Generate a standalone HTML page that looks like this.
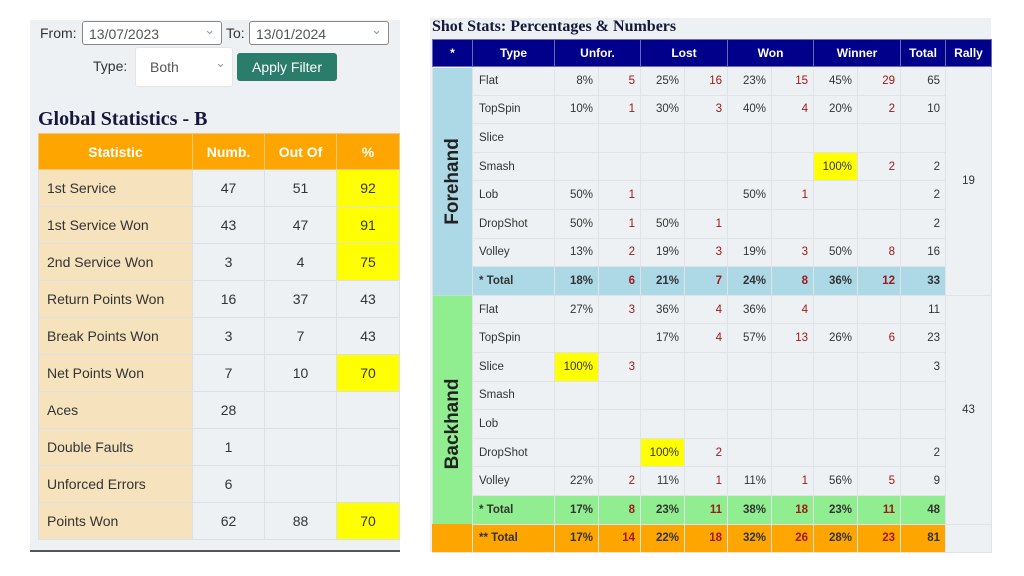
<!DOCTYPE html>
<html><head><meta charset="utf-8"><style>
body{margin:0;width:1024px;height:576px;background:#fff;position:relative;overflow:hidden;font-family:"Liberation Sans",sans-serif;}
.lp{position:absolute;left:30px;top:20px;width:370px;height:530px;background:#edf1f4;border-bottom:2px solid #555;}
.sel{position:absolute;height:24px;border:1px solid #888;border-radius:3px;background:#fff;font-size:14px;color:#555;line-height:24px;padding-left:6px;box-sizing:border-box}
.sel:after{content:"⌄";position:absolute;right:6px;top:-4px;color:#999;font-size:13px}
.lab{position:absolute;font-size:14px;color:#333}
table{border-collapse:collapse;position:absolute;table-layout:fixed}
.gt td{border:1px solid #dcdfe3;height:36px;font-size:14px;color:#333;text-align:center;padding:0}
.gt td.s{background:#f6e2bd;text-align:left;padding-left:8px}
.gt th{background:#ffa500;color:#fff;height:33px;font-size:14px;border:1px solid #f3c77a}
.gt td.y,.st td.y{background:#ffff00}
.st td,.st th{border:1px solid #dfe2e6;font-size:11.5px;color:#333;padding:0 5px;height:27.6px}
.st th{background:#00008b;color:#fff;height:26px;font-size:12px;border:1px solid #6a6ab8;text-align:center}
.st td{text-align:right}
.st td.t{text-align:left;padding-left:6px}
.st td.r{color:#a01818}
.fb td{background:#add8e6;font-weight:bold}
.bb td{background:#90ee90;font-weight:bold}
.ob td{background:#ffa500;font-weight:bold}
.st td.side{font-size:19px;font-weight:bold;color:#222;writing-mode:vertical-rl;transform:rotate(180deg);text-align:center;padding:0}
</style></head><body>
<div class="lp"></div>
<div class="lab" style="left:40px;top:25px">From:</div>
<div class="sel" style="left:82px;top:21px;width:140px">13/07/2023</div>
<div class="lab" style="left:226px;top:25px">To:</div>
<div class="sel" style="left:249px;top:21px;width:140px">13/01/2024</div>
<div class="lab" style="left:93px;top:58px">Type:</div>
<div class="sel" style="left:135px;top:47px;width:98px;height:40px;line-height:38px;border-color:#e5e5e5;padding-left:14px">Both</div>
<div style="position:absolute;left:237px;top:53px;width:100px;height:28px;background:#2a7d6b;border-radius:3px;color:#fff;font-size:14px;text-align:center;line-height:28px">Apply Filter</div>
<div style="position:absolute;left:38px;top:108px;font-family:'Liberation Serif',serif;font-weight:bold;font-size:20px;color:#15183a">Global Statistics - B</div>
<table class="gt" style="left:38px;top:133px;width:361px">
<colgroup><col style="width:154px"><col style="width:72px"><col style="width:72px"><col style="width:63px"></colgroup>
<tr><th>Statistic</th><th>Numb.</th><th>Out Of</th><th>%</th></tr>
<tr><td class="s">1st Service</td><td>47</td><td>51</td><td class="y">92</td></tr>
<tr><td class="s">1st Service Won</td><td>43</td><td>47</td><td class="y">91</td></tr>
<tr><td class="s">2nd Service Won</td><td>3</td><td>4</td><td class="y">75</td></tr>
<tr><td class="s">Return Points Won</td><td>16</td><td>37</td><td>43</td></tr>
<tr><td class="s">Break Points Won</td><td>3</td><td>7</td><td>43</td></tr>
<tr><td class="s">Net Points Won</td><td>7</td><td>10</td><td class="y">70</td></tr>
<tr><td class="s">Aces</td><td>28</td><td></td><td></td></tr>
<tr><td class="s">Double Faults</td><td>1</td><td></td><td></td></tr>
<tr><td class="s">Unforced Errors</td><td>6</td><td></td><td></td></tr>
<tr><td class="s">Points Won</td><td>62</td><td>88</td><td class="y">70</td></tr>
</table>
<div style="position:absolute;left:430px;top:18px;width:561px;height:534px;background:#edf1f4"></div>
<div style="position:absolute;left:432px;top:18px;font-family:'Liberation Serif',serif;font-weight:bold;font-size:16px;color:#15183a">Shot Stats: Percentages &amp; Numbers</div>
<table class="st" style="left:432px;top:39px;width:559px">
<colgroup><col style="width:40px"><col style="width:82px"><col style="width:44px"><col style="width:42px"><col style="width:44px"><col style="width:43px"><col style="width:44px"><col style="width:42px"><col style="width:44px"><col style="width:43px"><col style="width:45px"><col style="width:46px"></colgroup>
<tr><th>*</th><th>Type</th><th colspan="2">Unfor.</th><th colspan="2">Lost</th><th colspan="2">Won</th><th colspan="2">Winner</th><th>Total</th><th>Rally</th></tr>
<tr><td rowspan="8" class="side" style="background:#add8e6">Forehand</td><td class="t">Flat</td><td>8%</td><td class="r">5</td><td>25%</td><td class="r">16</td><td>23%</td><td class="r">15</td><td>45%</td><td class="r">29</td><td>65</td><td rowspan="8" style="text-align:center">19</td></tr>
<tr><td class="t">TopSpin</td><td>10%</td><td class="r">1</td><td>30%</td><td class="r">3</td><td>40%</td><td class="r">4</td><td>20%</td><td class="r">2</td><td>10</td></tr>
<tr><td class="t">Slice</td><td></td><td></td><td></td><td></td><td></td><td></td><td></td><td></td><td></td></tr>
<tr><td class="t">Smash</td><td></td><td></td><td></td><td></td><td></td><td></td><td class="y">100%</td><td class="r">2</td><td>2</td></tr>
<tr><td class="t">Lob</td><td>50%</td><td class="r">1</td><td></td><td></td><td>50%</td><td class="r">1</td><td></td><td></td><td>2</td></tr>
<tr><td class="t">DropShot</td><td>50%</td><td class="r">1</td><td>50%</td><td class="r">1</td><td></td><td></td><td></td><td></td><td>2</td></tr>
<tr><td class="t">Volley</td><td>13%</td><td class="r">2</td><td>19%</td><td class="r">3</td><td>19%</td><td class="r">3</td><td>50%</td><td class="r">8</td><td>16</td></tr>
<tr class="fb"><td class="t">* Total</td><td>18%</td><td class="r">6</td><td>21%</td><td class="r">7</td><td>24%</td><td class="r">8</td><td>36%</td><td class="r">12</td><td>33</td></tr>
<tr><td rowspan="9" class="side" style="background:#90ee90">Backhand</td><td class="t">Flat</td><td>27%</td><td class="r">3</td><td>36%</td><td class="r">4</td><td>36%</td><td class="r">4</td><td></td><td></td><td>11</td><td rowspan="8" style="text-align:center">43</td></tr>
<tr><td class="t">TopSpin</td><td></td><td></td><td>17%</td><td class="r">4</td><td>57%</td><td class="r">13</td><td>26%</td><td class="r">6</td><td>23</td></tr>
<tr><td class="t">Slice</td><td class="y">100%</td><td class="r">3</td><td></td><td></td><td></td><td></td><td></td><td></td><td>3</td></tr>
<tr><td class="t">Smash</td><td></td><td></td><td></td><td></td><td></td><td></td><td></td><td></td><td></td></tr>
<tr><td class="t">Lob</td><td></td><td></td><td></td><td></td><td></td><td></td><td></td><td></td><td></td></tr>
<tr><td class="t">DropShot</td><td></td><td></td><td class="y">100%</td><td class="r">2</td><td></td><td></td><td></td><td></td><td>2</td></tr>
<tr><td class="t">Volley</td><td>22%</td><td class="r">2</td><td>11%</td><td class="r">1</td><td>11%</td><td class="r">1</td><td>56%</td><td class="r">5</td><td>9</td></tr>
<tr class="bb"><td class="t">* Total</td><td>17%</td><td class="r">8</td><td>23%</td><td class="r">11</td><td>38%</td><td class="r">18</td><td>23%</td><td class="r">11</td><td>48</td></tr>
<tr class="ob"><td class="t" style="background:#ffa500">** Total</td><td>17%</td><td class="r">14</td><td>22%</td><td class="r">18</td><td>32%</td><td class="r">26</td><td>28%</td><td class="r">23</td><td>81</td><td style="background:#edf1f4"></td></tr>
</table>
<div style="position:absolute;left:432px;top:524px;width:40px;height:28px;background:#ffa500"></div>
</body></html>
